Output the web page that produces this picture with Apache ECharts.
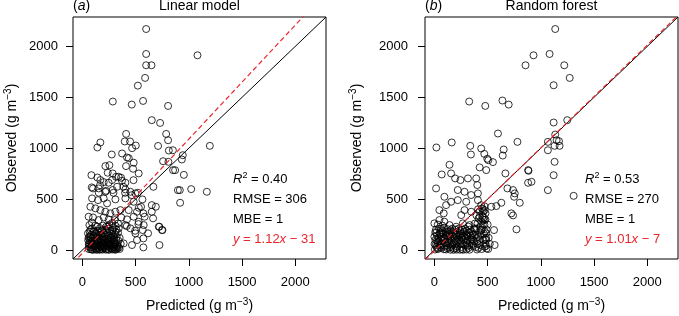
<!DOCTYPE html>
<html>
<head>
<meta charset="utf-8">
<script src="https://cdn.jsdelivr.net/npm/echarts@6/dist/echarts.min.js"></script>
<style>
html, body { margin: 0; padding: 0; background: #fff; }
#chart { width: 679px; height: 316px; }
</style>
</head>
<body>
<div id="chart"></div>
<script>
// predicted, observed (g m-3)
const linearPoints = [
    [599,2170],[1081,1912],[599,1925],[599,1814],[649,1814],[589,1690],[521,1614],[286,1458],[464,1428],[570,1464],
    [805,1415],[652,1275],[730,1248],[411,1140],[787,1140],
    [141,1007],[169,1056],[276,938],[373,948],[398,1066],[448,1066],[467,1000],[502,1026],[711,1022],[805,1078],
    [812,977],[850,980],[943,931],[1197,1023],[436,902],[758,872],[934,889],[808,866],
    [419,909],[482,857],[410,824],[476,798],[529,752],[216,824],[238,759],[285,752],[316,719],[341,719],[363,710],
    [372,680],[404,661],[85,735],[141,712],[254,833],[480,686],[166,637],[88,615],[223,582],[154,562],[292,562],[385,621],[401,562],
    [852,784],[871,784],[953,738],[897,588],[915,588],[1022,598],[1169,572],[918,464],[652,441],[690,425],[652,376],
    [530,415],[573,360],[718,229],[752,196],[724,49],[573,114],[573,26],[495,189],[526,255],[417,235],[667,621],
    [564,497],[521,562],[464,539],
    [100,605],[153,605],[91,507],[147,490],[75,425],[122,409],[59,327],[100,320],[66,245],[91,213],[53,164],[75,131],[106,180],
    [169,687],[200,667],[247,661],[279,687],[216,572],[285,589],[326,621],[404,595],[451,572],[498,556],[200,507],
    [232,458],[310,497],[404,507],[482,474],[551,425],[169,392],[216,376],[263,360],[310,376],[357,392],[435,392],
    [513,376],[153,294],[200,320],[247,301],[304,294],[366,320],[419,301],[482,327],[529,278],[576,245],[138,229],
    [185,196],[241,229],[285,196],[341,213],[404,245],[451,213],[498,164],[567,196],[617,164],[513,98],[466,49],
    [388,65],[723,229],[748,196],[664,311],[585,327],
    [60,10],[75,25],[90,5],[105,40],[120,15],[135,60],[150,30],[165,8],[180,45],[195,20],[210,70],[225,12],[240,35],
    [255,55],[270,18],[285,40],[300,8],[315,30],[330,15],[70,55],[85,80],[100,70],[115,95],[130,110],[145,85],
    [160,120],[175,100],[190,75],[205,130],[220,95],[235,115],[250,140],[265,90],[280,110],[295,75],[310,60],
    [320,95],[65,130],[80,150],[95,115],[110,140],[125,160],[140,135],[155,175],[170,150],[185,190],[200,165],
    [215,200],[230,175],[245,210],[260,185],[275,160],[290,220],[305,150],[320,200],[335,170],[55,95],[68,180],
    [100,2],[130,3],[160,2],[190,4],[220,3],[250,2],[280,5],[310,2],[115,50],[145,18],[175,28],[205,48],[235,65],
    [265,45],[295,30],[325,50],[88,30],[200,100],[240,90],[350,120],[360,60],[345,25],
    [62,40],[78,8],[92,48],[108,22],[122,38],[138,6],[152,52],[168,36],[182,12],[198,38],[212,22],[228,48],[242,8],
    [258,32],[272,62],[288,18],[302,50],[318,10],[332,36],[70,88],[96,92],[122,70],[148,102],[172,78],[198,112],
    [222,72],[248,100],[272,128],[298,100],[322,128],[80,115],[105,125],[135,148],[162,140],[188,130],[212,150],
    [238,138],[262,118],[288,145],[312,175],[76,200],[110,185],[140,190],[165,215],[195,240],[225,230],[255,250],
    [280,265],[310,240],[335,260],[90,270],[120,240],[60,60],[58,120],[340,90],[350,10],[112,78],[186,58],[256,78],[300,128]
]

const forestPoints = [
    [1135,2170],[931,1912],[1082,1925],[856,1814],[1220,1814],[1271,1690],[1120,1618],[327,1458],[478,1415],[639,1468],
    [698,1428],[1120,1252],[1248,1275],[597,1144],
    [1135,1134],[1148,1078],[1170,1069],[1129,1023],[1176,1023],[1066,980],[1066,1062],[1129,866],[1120,735],
    [1066,588],[1308,532],
    [19,1007],[163,1056],[337,1023],[343,938],[440,997],[469,944],[651,987],[642,928],[780,1062],[507,882],
    [497,896],[550,863],[425,811],[487,785],[142,837],[881,785],[912,670],[884,778],[880,660],
    [667,752],[686,605],[739,589],[755,556],[749,523],[802,464],[723,360],[739,340],[771,203],[629,464],[582,432],
    [535,425],[560,196],[566,49],
    [69,742],[157,752],[195,703],[245,687],[315,703],[393,703],[403,638],[220,589],[283,572],[346,540],[409,556],
    [16,605],[94,523],[110,441],[47,392],[88,360],[157,474],[220,490],[299,474],[409,490],[447,409],[472,392],
    [283,392],[346,376],[252,343],[425,327],[472,294],[0,262],[47,294],[94,278],[142,245],[204,229],[267,262],
    [330,245],[377,213],[440,196],[487,164],[0,131],[63,164],[126,131],[487,98],[472,33],
    [5,5],[20,30],[35,10],[50,60],[65,20],[80,90],[95,40],[110,5],[125,70],[140,25],[155,110],[170,50],[185,15],
    [200,85],[215,35],[230,130],[245,60],[260,10],[275,100],[290,45],[305,150],[320,20],[335,80],[350,120],[365,40],
    [10,100],[25,140],[40,120],[55,170],[70,130],[85,160],[100,110],[115,150],[130,180],[145,140],[160,170],
    [175,130],[190,165],[205,150],[220,175],[235,100],[250,160],[265,140],[280,180],[295,120],[310,95],[325,170],
    [340,140],[355,60],[30,75],[60,45],[90,8],[150,3],[180,2],[210,4],[240,3],[270,2],[300,5],[330,3],[120,20],
    [195,55],[255,30],[45,210],[15,200],[75,240],
    [390,30],[400,80],[410,130],[420,180],[430,230],[440,280],[450,330],[460,380],[470,430],[385,150],[395,210],
    [405,260],[415,310],[480,60],[485,120],[475,180],[470,250],[465,320],[455,400],[445,10],[400,5],[430,50],
    [460,100],[490,200],[480,300],[490,15],
    [12,48],[28,18],[42,88],[58,28],[72,60],[88,120],[102,72],[118,42],[132,100],[148,58],[162,90],[178,72],
    [192,110],[208,20],[222,80],[238,150],[252,92],[268,55],[282,130],[298,72],[312,140],[328,48],[342,105],
    [358,160],[372,85],[18,170],[32,250],[48,160],[62,210],[78,190],[92,220],[108,175],[122,205],[138,160],
    [152,195],[168,210],[182,185],[198,200],[212,130],[228,210],[242,185],[258,200],[272,165],[288,210],[302,190],
    [318,230],[332,200],[348,185],[362,150],[375,200],[380,260],[395,120],[405,60],[415,20],[425,100],[435,150],
    [445,200],[455,250],[465,160],[475,110],[485,40],[395,340],[410,400],[425,380],[440,440],[455,300],[480,360],
    [500,250],[510,120],[520,60],[505,10],[2,60],[8,175],[25,95],[62,110],[110,140],[160,30],[210,100],[260,120],
    [310,35],[360,100]
]

const tickValues = [0, 500, 1000, 1500, 2000]
const panelTitles = ['Linear model', 'Random forest']
const panelLetters = ['a', 'b']
const r2Values = ['0.40', '0.53']
const rmseValues = ['306', '270']
const mbeValues = ['1', '1']
const fitSlopes = [1.12, 1.01]
const fitIntercepts = [-31, -7]

const axisMin = -88
const axisMax = 2288
const font = "'Liberation Sans', Arial, Helvetica, sans-serif"
const red = '#e8262c'
const gridLefts = [73, 425]
const yLabelMargins = [15, 17]
const yNameGaps = [52, 59]
const gridTop = 17
const gridW = 253
const gridH = 242

const supRich = {
    t: { fontSize: 14, fontFamily: font, color: '#000', lineHeight: 18 },
    s: { fontSize: 10, fontFamily: font, color: '#000', verticalAlign: 'top', lineHeight: 10 }
}

const chart = echarts.init(document.getElementById('chart'), null, { renderer: 'canvas' })

const grids = gridLefts.map(left => ({
    left: left, top: gridTop, width: gridW, height: gridH,
    outerBoundsMode: 'none', containLabel: false,
    show: true, borderColor: '#000', borderWidth: 1, backgroundColor: 'transparent'
}))

const xAxes = gridLefts.map((_, i) => ({
    type: 'value', gridIndex: i, min: axisMin, max: axisMax,
    splitLine: { show: false },
    axisLine: { show: false, onZero: false },
    axisTick: { show: true, customValues: tickValues, length: 7, lineStyle: { color: '#000' } },
    axisLabel: { customValues: tickValues, margin: 17, fontSize: 13, fontFamily: font, color: '#000',
        formatter: v => String(v) },
    name: '{t|Predicted (g m}{s|−3}{t|)}',
    nameLocation: 'middle', nameGap: 38,
    nameTextStyle: { rich: supRich }
}))

const yAxes = gridLefts.map((_, i) => ({
    type: 'value', gridIndex: i, min: axisMin, max: axisMax,
    splitLine: { show: false },
    axisLine: { show: false, onZero: false },
    axisTick: { show: true, customValues: tickValues, length: 7, lineStyle: { color: '#000' } },
    axisLabel: { customValues: tickValues, margin: yLabelMargins[i], fontSize: 13, fontFamily: font, color: '#000',
        formatter: v => String(v) },
    name: '{t|Observed (g m}{s|−3}{t|)}',
    nameLocation: 'middle', nameGap: yNameGaps[i],
    nameTextStyle: { rich: supRich }
}))

const series = []
;[linearPoints, forestPoints].forEach((pts, i) => {
    series.push({
        type: 'scatter', xAxisIndex: i, yAxisIndex: i, data: pts,
        symbol: 'circle', symbolSize: 7,
        itemStyle: { color: 'rgba(0,0,0,0)', borderColor: '#000', borderWidth: 1 },
        silent: true
    })
    series.push({
        type: 'line', xAxisIndex: i, yAxisIndex: i,
        data: [[axisMin, axisMin], [axisMax, axisMax]],
        symbol: 'none', clip: true,
        lineStyle: { color: '#000', width: 1 }, silent: true
    })
    const s = fitSlopes[i], b = fitIntercepts[i]
    series.push({
        type: 'line', xAxisIndex: i, yAxisIndex: i,
        data: [[axisMin, s * axisMin + b], [axisMax, s * axisMax + b]],
        symbol: 'none', clip: true,
        lineStyle: { color: red, width: 1.2, type: [5, 3] }, silent: true
    })
})

const graphics = []
gridLefts.forEach((left, i) => {
    const cx = left + gridW / 2
    const annX = left + 160
    graphics.push({
        type: 'text', x: cx, y: 6,
        style: { text: panelTitles[i], font: '14px ' + font, fill: '#000', align: 'center', verticalAlign: 'middle' }
    })
    graphics.push({
        type: 'text', x: left, y: 6,
        style: {
            text: '{n|(}{i|' + panelLetters[i] + '}{n|)}', verticalAlign: 'middle',
            rich: {
                n: { fontSize: 14, fontFamily: font, fill: '#000' },
                i: { fontSize: 14, fontFamily: font, fontStyle: 'italic', fill: '#000' }
            }
        }
    })
    const annRich = {
        n: { fontSize: 13, fontFamily: font, fill: '#000', lineHeight: 16 },
        i: { fontSize: 13, fontFamily: font, fontStyle: 'italic', fill: '#000', lineHeight: 16 },
        s: { fontSize: 9, fontFamily: font, fill: '#000', verticalAlign: 'top', lineHeight: 8 },
        rn: { fontSize: 13, fontFamily: font, fill: red, lineHeight: 16 },
        ri: { fontSize: 13, fontFamily: font, fontStyle: 'italic', fill: red, lineHeight: 16 }
    }
    const lines = [
        '{i|R}{s|2}{n| = ' + r2Values[i] + '}',
        '{n|RMSE = ' + rmseValues[i] + '}',
        '{n|MBE = ' + mbeValues[i] + '}',
        '{ri|y}{rn| = ' + fitSlopes[i].toFixed(2) + '}{ri|x}{rn| − ' + Math.abs(fitIntercepts[i]) + '}'
    ]
    lines.forEach((txt, k) => {
        graphics.push({
            type: 'text', x: annX, y: 179 + k * 20,
            style: { text: txt, verticalAlign: 'middle', rich: annRich }
        })
    })
})

chart.setOption({
    animation: false,
    grid: grids,
    xAxis: xAxes,
    yAxis: yAxes,
    series: series,
    graphic: graphics
})
</script>
</body>
</html>
